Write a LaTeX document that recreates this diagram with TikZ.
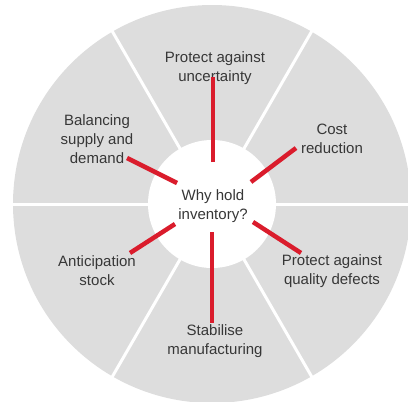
\documentclass[tikz,border=0pt]{standalone}
\usepackage{fontspec}
\setmainfont{Liberation Sans}
\definecolor{sector}{RGB}{221,221,221}
\definecolor{redline}{RGB}{218,28,44}
\definecolor{txt}{RGB}{55,55,55}
\begin{document}
\begin{tikzpicture}[x=1pt,y=-1pt,
  lbl/.style={align=center, text=txt, font=\fontsize{15}{19}\selectfont, inner sep=0pt},
  spoke/.style={draw=redline, line width=4.5pt},
  divider/.style={draw=white, line width=3pt}]
\useasboundingbox (0,0) rectangle (408,402);
\coordinate (c) at (212,204);
\begin{scope}
  \clip (0,0) rectangle (408,402);
  \fill[sector] (c) circle (199pt);
  \foreach \a in {0,60,120,180,240,300}
    \draw[divider] (c) -- ++(\a:215pt);
  \fill[white] (c) circle (64pt);
\end{scope}
% labels
\node[lbl] (unc) at (215,68) {Protect against\\uncertainty};
\node[lbl] (cost) at (332,139) {Cost\\reduction};
\node[lbl] (bal) at (97,139) {Balancing\\supply and\\demand};
\node[lbl] (why) at (213,206) {Why hold\\inventory?};
\node[lbl] (ant) at (97,271) {Anticipation\\stock};
\node[lbl] (qual) at (332,271) {Protect against\\quality defects};
\node[lbl] (stab) at (215,341) {Stabilise\\manufacturing};
% spoke end points
\coordinate (u1) at (213,162); \coordinate (u2) at (213,77);
\coordinate (c1) at (251,182); \coordinate (c2) at (296,148);
\coordinate (b1) at (177,183); \coordinate (b2) at (127,158);
\coordinate (a1) at (175,224); \coordinate (a2) at (130,253);
\coordinate (q1) at (253,222); \coordinate (q2) at (301,253);
\coordinate (s1) at (212,232); \coordinate (s2) at (212,323);
\draw[spoke] (u1) -- (u2);
\draw[spoke] (c1) -- (c2);
\draw[spoke] (b1) -- (b2);
\draw[spoke] (a1) -- (a2);
\draw[spoke] (q1) -- (q2);
\draw[spoke] (s1) -- (s2);
\end{tikzpicture}
\end{document}
